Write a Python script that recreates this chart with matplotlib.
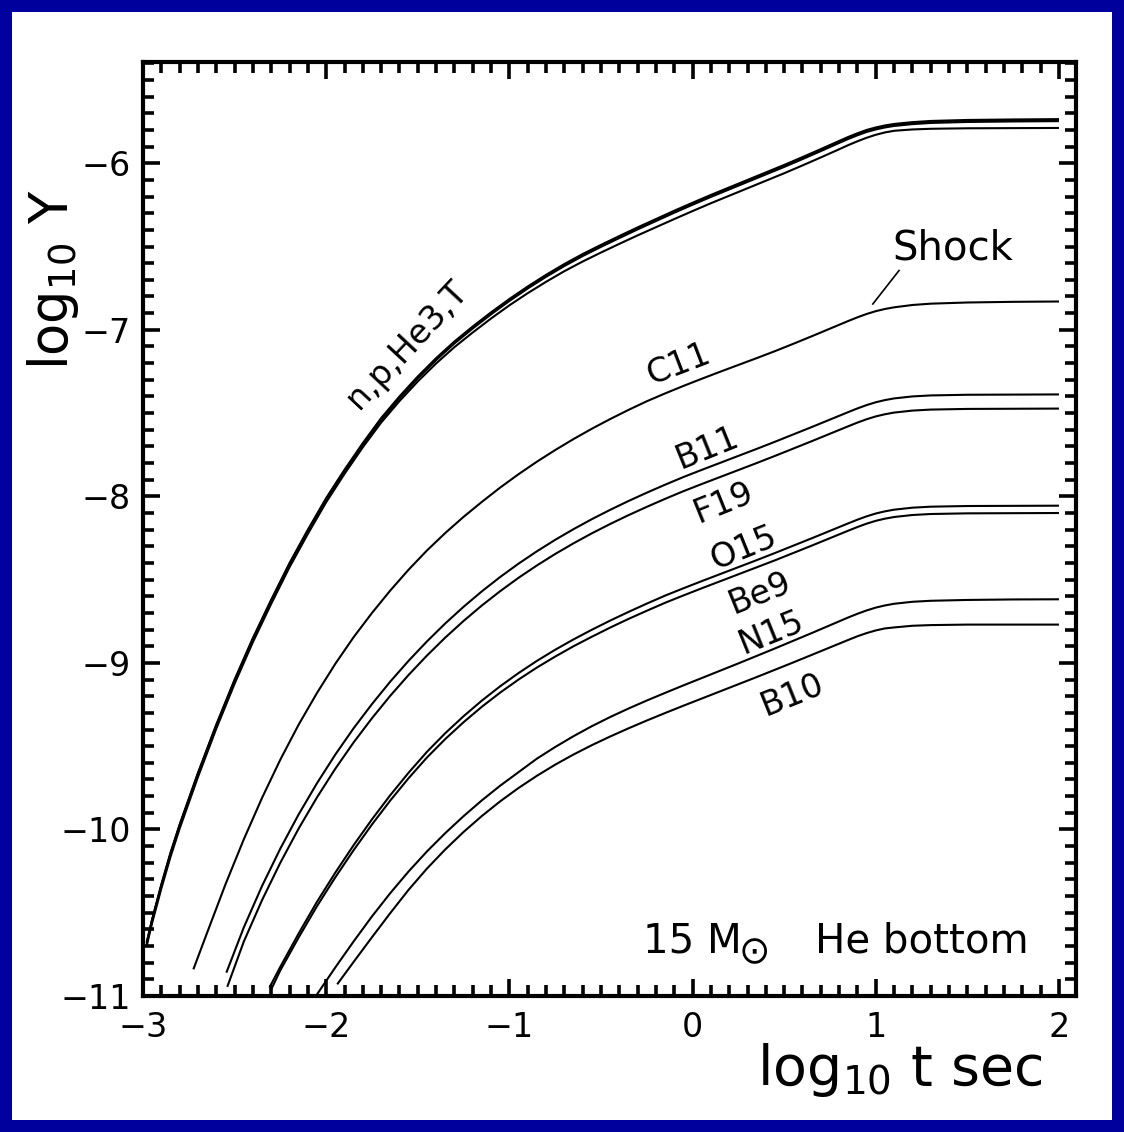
import matplotlib
matplotlib.use("Agg")
import matplotlib.pyplot as plt
from matplotlib.ticker import MultipleLocator
from matplotlib.patches import Rectangle

plt.rcParams['mathtext.default'] = 'regular'
plt.rcParams['font.family'] = ['DejaVu Sans']

# ---- abundance tracks: log10 t [s] versus log10 Y ----
t_light = [-2.98, -2.95, -2.9, -2.85, -2.8, -2.7, -2.6, -2.5, -2.4, -2.3,
           -2.2, -2.1, -2.0, -1.9, -1.8, -1.7, -1.6, -1.5, -1.4, -1.3, -1.2,
           -1.1, -1.0, -0.9, -0.8, -0.7, -0.6, -0.5, -0.4, -0.3, -0.2, -0.1,
           0.0, 0.1, 0.2, 0.3, 0.4, 0.5, 0.6, 0.7, 0.8, 0.85, 0.9, 0.95, 1.0,
           1.05, 1.1, 1.2, 1.3, 1.5, 1.75, 2.0]
y_n = [-10.68, -10.54, -10.33, -10.14, -9.97, -9.66, -9.37, -9.10, -8.85,
       -8.62, -8.40, -8.20, -8.01, -7.84, -7.68, -7.53, -7.40, -7.28, -7.17,
       -7.07, -6.98, -6.895, -6.815, -6.74, -6.67, -6.605, -6.545, -6.49,
       -6.437, -6.385, -6.335, -6.285, -6.237, -6.19, -6.145, -6.10, -6.055,
       -6.01, -5.963, -5.915, -5.866, -5.842, -5.82, -5.80, -5.785, -5.773,
       -5.764, -5.753, -5.746, -5.74, -5.737, -5.735]
y_p = [-10.68, -10.54, -10.335, -10.145, -9.975, -9.665, -9.376, -9.106,
       -8.856, -8.626, -8.406, -8.206, -8.016, -7.846, -7.686, -7.536, -7.406,
       -7.286, -7.176, -7.076, -6.986, -6.901, -6.821, -6.746, -6.676, -6.611,
       -6.551, -6.496, -6.443, -6.391, -6.341, -6.291, -6.243, -6.196, -6.151,
       -6.106, -6.061, -6.016, -5.969, -5.921, -5.872, -5.848, -5.826, -5.807,
       -5.792, -5.78, -5.771, -5.76, -5.753, -5.747, -5.744, -5.742]
y_he3 = [-10.69, -10.55, -10.34, -10.15, -9.98, -9.672, -9.382, -9.112,
         -8.862, -8.632, -8.412, -8.212, -8.022, -7.852, -7.692, -7.542,
         -7.412, -7.292, -7.182, -7.082, -6.992, -6.907, -6.827, -6.752,
         -6.682, -6.617, -6.557, -6.502, -6.449, -6.397, -6.347, -6.297,
         -6.249, -6.202, -6.157, -6.112, -6.067, -6.022, -5.975, -5.927,
         -5.878, -5.854, -5.832, -5.812, -5.797, -5.785, -5.776, -5.765,
         -5.758, -5.752, -5.749, -5.747]
y_t = [-10.70, -10.56, -10.355, -10.165, -9.995, -9.685, -9.395, -9.125,
       -8.875, -8.645, -8.425, -8.225, -8.035, -7.865, -7.705, -7.557, -7.428,
       -7.31, -7.202, -7.104, -7.016, -6.932, -6.853, -6.78, -6.712, -6.648,
       -6.59, -6.536, -6.484, -6.433, -6.384, -6.335, -6.287, -6.24, -6.195,
       -6.15, -6.105, -6.06, -6.013, -5.965, -5.916, -5.891, -5.868, -5.847,
       -5.829, -5.815, -5.805, -5.797, -5.793, -5.79, -5.789, -5.788]

t_c11 = [-2.725, -2.65, -2.55, -2.45, -2.35, -2.25, -2.15, -2.05, -1.95,
         -1.85, -1.75, -1.65, -1.55, -1.45, -1.35, -1.25, -1.15, -1.05, -0.95,
         -0.85, -0.75, -0.65, -0.55, -0.45, -0.35, -0.25, -0.15, -0.05, 0.05,
         0.15, 0.25, 0.35, 0.45, 0.55, 0.65, 0.75, 0.85, 0.9, 0.95, 1.0, 1.05,
         1.1, 1.2, 1.3, 1.5, 1.75, 2.0]
y_c11 = [-10.84, -10.62, -10.33, -10.06, -9.81, -9.58, -9.37, -9.18, -9.005,
         -8.845, -8.70, -8.565, -8.44, -8.325, -8.22, -8.123, -8.033, -7.947,
         -7.867, -7.792, -7.722, -7.656, -7.594, -7.536, -7.481, -7.429,
         -7.382, -7.337, -7.294, -7.252, -7.211, -7.17, -7.128, -7.084,
         -7.039, -6.993, -6.947, -6.925, -6.905, -6.888, -6.875, -6.865,
         -6.851, -6.843, -6.836, -6.832, -6.83]

t_b11 = [-2.545, -2.45, -2.35, -2.25, -2.15, -2.05, -1.95, -1.85, -1.75,
         -1.65, -1.55, -1.45, -1.35, -1.25, -1.15, -1.05, -0.95, -0.85, -0.75,
         -0.65, -0.55, -0.45, -0.35, -0.25, -0.15, -0.05, 0.05, 0.15, 0.25,
         0.35, 0.45, 0.55, 0.65, 0.75, 0.85, 0.9, 0.95, 1.0, 1.05, 1.1, 1.2,
         1.3, 1.5, 1.75, 2.0]
y_b11 = [-10.86, -10.589, -10.339, -10.114, -9.909, -9.722, -9.55, -9.392,
         -9.247, -9.112, -8.987, -8.871, -8.763, -8.663, -8.57, -8.484,
         -8.404, -8.33, -8.261, -8.197, -8.137, -8.081, -8.028, -7.978, -7.93,
         -7.884, -7.841, -7.799, -7.757, -7.715, -7.672, -7.628, -7.584,
         -7.539, -7.494, -7.472, -7.452, -7.435, -7.422, -7.412, -7.40,
         -7.394, -7.39, -7.389, -7.388]
t_f19 = [-2.54, -2.45, -2.35, -2.25, -2.15, -2.05, -1.95, -1.85, -1.75,
         -1.65, -1.55, -1.45, -1.35, -1.25, -1.15, -1.05, -0.95, -0.85, -0.75,
         -0.65, -0.55, -0.45, -0.35, -0.25, -0.15, -0.05, 0.05, 0.15, 0.25,
         0.35, 0.45, 0.55, 0.65, 0.75, 0.85, 0.9, 0.95, 1.0, 1.05, 1.1, 1.2,
         1.3, 1.5, 1.75, 2.0]
y_f19 = [-10.945, -10.674, -10.424, -10.199, -9.994, -9.807, -9.635, -9.477,
         -9.332, -9.197, -9.072, -8.956, -8.848, -8.748, -8.655, -8.569,
         -8.489, -8.415, -8.346, -8.282, -8.222, -8.166, -8.113, -8.063,
         -8.015, -7.969, -7.926, -7.884, -7.842, -7.80, -7.757, -7.713,
         -7.669, -7.624, -7.579, -7.557, -7.537, -7.52, -7.507, -7.497,
         -7.485, -7.479, -7.475, -7.474, -7.473]

t_o15 = [-2.31, -2.25, -2.15, -2.05, -1.95, -1.85, -1.75, -1.65, -1.55,
         -1.45, -1.35, -1.25, -1.15, -1.05, -0.95, -0.85, -0.75, -0.65, -0.55,
         -0.45, -0.35, -0.25, -0.15, -0.05, 0.05, 0.15, 0.25, 0.35, 0.45,
         0.55, 0.65, 0.75, 0.85, 0.9, 0.95, 1.0, 1.05, 1.1, 1.2, 1.3, 1.5,
         1.75, 2.0]
y_o15 = [-10.95, -10.824, -10.624, -10.434, -10.259, -10.094, -9.939, -9.794,
         -9.659, -9.534, -9.422, -9.32, -9.226, -9.14, -9.061, -8.988, -8.921,
         -8.859, -8.801, -8.746, -8.694, -8.644, -8.596, -8.552, -8.509,
         -8.467, -8.425, -8.383, -8.34, -8.296, -8.252, -8.207, -8.162, -8.14,
         -8.12, -8.103, -8.09, -8.08, -8.068, -8.062, -8.058, -8.057, -8.056]
t_be9 = [-2.30, -2.25, -2.15, -2.05, -1.95, -1.85, -1.75, -1.65, -1.55,
         -1.45, -1.35, -1.25, -1.15, -1.05, -0.95, -0.85, -0.75, -0.65, -0.55,
         -0.45, -0.35, -0.25, -0.15, -0.05, 0.05, 0.15, 0.25, 0.35, 0.45,
         0.55, 0.65, 0.75, 0.85, 0.9, 0.95, 1.0, 1.05, 1.1, 1.2, 1.3, 1.5,
         1.75, 2.0]
y_be9 = [-10.96, -10.845, -10.648, -10.46, -10.287, -10.124, -9.97, -9.826,
         -9.692, -9.568, -9.457, -9.356, -9.263, -9.178, -9.1, -9.028, -8.962,
         -8.9, -8.843, -8.788, -8.736, -8.687, -8.639, -8.595, -8.552, -8.51,
         -8.468, -8.426, -8.384, -8.34, -8.296, -8.251, -8.206, -8.184,
         -8.164, -8.147, -8.134, -8.124, -8.112, -8.106, -8.102, -8.101, -8.1]

t_n15 = [-2.05, -1.95, -1.85, -1.75, -1.65, -1.55, -1.45, -1.35, -1.25,
         -1.15, -1.05, -0.95, -0.85, -0.75, -0.65, -0.55, -0.45, -0.35, -0.25,
         -0.15, -0.05, 0.05, 0.15, 0.25, 0.35, 0.45, 0.55, 0.65, 0.75, 0.85,
         0.9, 0.95, 1.0, 1.05, 1.1, 1.2, 1.3, 1.5, 1.75, 2.0]
y_n15 = [-10.99, -10.828, -10.672, -10.522, -10.382, -10.252, -10.132,
         -10.022, -9.92, -9.825, -9.737, -9.656, -9.575, -9.505, -9.44, -9.38,
         -9.325, -9.274, -9.226, -9.18, -9.135, -9.091, -9.047, -9.003,
         -8.958, -8.913, -8.867, -8.821, -8.774, -8.727, -8.705, -8.685,
         -8.668, -8.655, -8.645, -8.633, -8.627, -8.622, -8.619, -8.618]
t_b10 = [-1.94, -1.85, -1.75, -1.65, -1.55, -1.45, -1.35, -1.25, -1.15,
         -1.05, -0.95, -0.85, -0.75, -0.65, -0.55, -0.45, -0.35, -0.25, -0.15,
         -0.05, 0.05, 0.15, 0.25, 0.35, 0.45, 0.55, 0.65, 0.75, 0.85, 0.9,
         0.95, 1.0, 1.05, 1.1, 1.2, 1.3, 1.5, 1.75, 2.0]
y_b10 = [-10.93, -10.795, -10.647, -10.502, -10.362, -10.235, -10.12, -10.015,
         -9.919, -9.831, -9.751, -9.678, -9.611, -9.55, -9.494, -9.442,
         -9.393, -9.346, -9.301, -9.257, -9.214, -9.171, -9.128, -9.085,
         -9.041, -8.997, -8.952, -8.907, -8.862, -8.84, -8.821, -8.805,
         -8.793, -8.787, -8.777, -8.773, -8.77, -8.77, -8.77]

tracks = [
    (t_light, y_n), (t_light, y_p), (t_light, y_he3), (t_light, y_t),
    (t_c11, y_c11), (t_b11, y_b11), (t_f19, y_f19),
    (t_o15, y_o15), (t_be9, y_be9), (t_n15, y_n15), (t_b10, y_b10),
]

# curve labels: text, x, y, rotation
curve_labels = [
    ("n,p,He3,T", -1.559, -7.09, 47),
    ("C11", -0.08, -7.205, 21),
    ("B11", 0.079, -7.71, 22),
    ("F19", 0.171, -8.04, 22),
    ("O15", 0.28, -8.31, 22),
    ("Be9", 0.368, -8.58, 22),
    ("N15", 0.433, -8.82, 22),
    ("B10", 0.543, -9.19, 22),
]

x_ticks = [-3, -2, -1, 0, 1, 2]
y_ticks = [-11, -10, -9, -8, -7, -6]

W, H = 1124, 1132
fig = plt.figure(figsize=(W / 100, H / 100), dpi=100, facecolor='#00009C')
fig.patches.append(Rectangle((12 / W, 12 / H), 1 - 24 / W, 1 - 24 / H,
                             transform=fig.transFigure, facecolor='white',
                             edgecolor='none', zorder=-10))

ax = fig.add_axes([143 / W, 1 - 996 / H, (1076 - 143) / W, (996 - 62) / H])
ax.set_facecolor('white')
ax.set_zorder(1)

for tx, ty in tracks:
    ax.plot(tx, ty, color='black', lw=1.5, solid_capstyle='butt')

for txt, lx, ly, rot in curve_labels:
    ax.text(lx, ly, txt, fontsize=24, rotation=rot, rotation_mode='anchor',
            ha='center', va='center')

# shock marker
ax.plot([0.984, 1.127], [-6.845, -6.644], color='black', lw=1.2)
ax.text(1.42, -6.51, "Shock", fontsize=29, ha='center', va='center')

# model annotation
ax.text(-0.271, -10.737, "15 M", fontsize=29, ha='left', va='baseline')
ax.text(0.338, -10.80, "\u2299", fontsize=27, ha='center', va='baseline')
ax.text(0.668, -10.737, "He bottom", fontsize=29, ha='left', va='baseline')

ax.set_xlim(-3, 2.093)
ax.set_ylim(-11, -5.392)
ax.set_xticks(x_ticks)
ax.set_yticks(y_ticks)
ax.xaxis.set_minor_locator(MultipleLocator(0.1))
ax.yaxis.set_minor_locator(MultipleLocator(0.1))
ax.tick_params(which='both', direction='in', top=True, right=True,
               labelsize=24, color='black')
ax.tick_params(which='major', length=12.5, width=2.6)
ax.tick_params(which='minor', length=8, width=2.6)
ax.tick_params(axis='x', pad=11)
ax.tick_params(axis='y', pad=9)
for sp in ax.spines.values():
    sp.set_linewidth(3)

fig.text(1042 / W, 1 - 1085 / H, r"log$_{10}$ t sec", fontsize=40,
         ha='right', va='baseline')
fig.text(53 / W, 1 - 280 / H, r"log$_{10}$ Y", fontsize=38, rotation=90,
         ha='center', va='center')

fig.savefig("out.png", dpi=100, facecolor=fig.get_facecolor())
